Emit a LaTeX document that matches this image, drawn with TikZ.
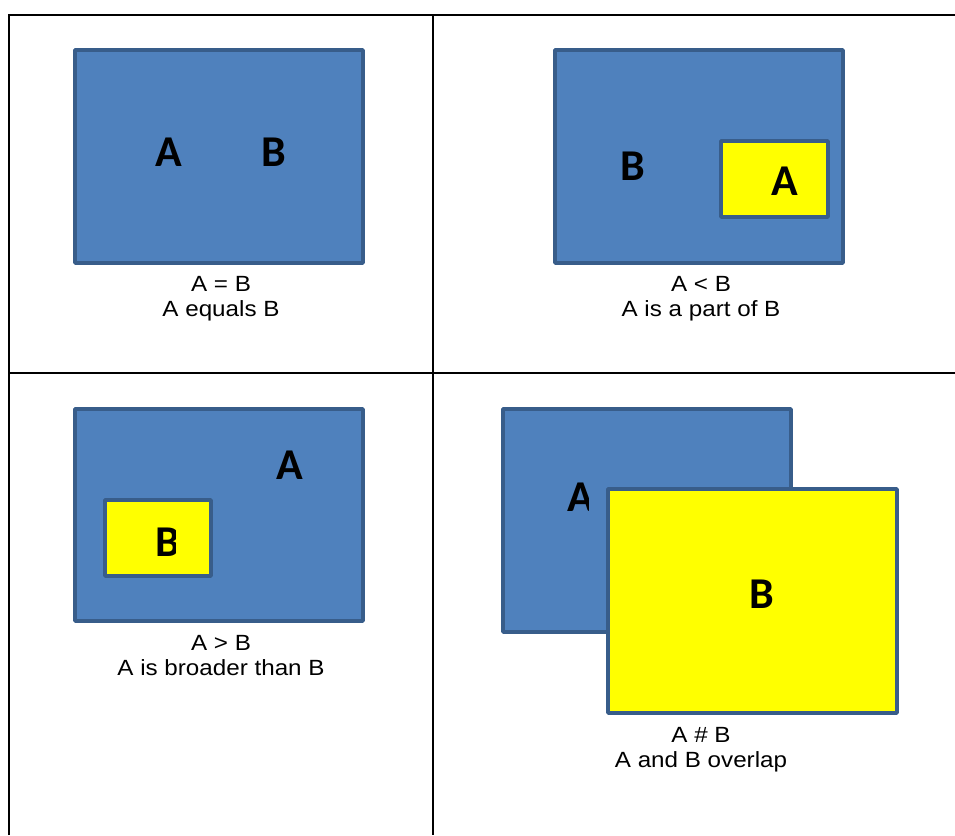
\documentclass[tikz,border=0pt]{standalone}
\usepackage{fontspec}
\setmainfont{Liberation Sans}
\newfontfamily\capfont[FakeStretch=1.1]{Liberation Sans}
\newfontfamily\letterfont{Carlito}
\definecolor{boxblue}{HTML}{4F81BD}
\definecolor{boxedge}{HTML}{385D8A}
\definecolor{boxyellow}{HTML}{FFFF00}
\tikzset{
  gridline/.style={line width=2pt, black},
  bluebox/.style={fill=boxblue, draw=boxedge, line width=3.5pt, line join=round},
  yellowbox/.style={fill=boxyellow, draw=boxedge, line width=3.5pt, line join=round},
  letter/.style={font=\letterfont\bfseries\fontsize{44}{44}\selectfont, inner sep=0pt, text=black},
  caption/.style={font=\capfont\fontsize{22}{24}\selectfont, align=center, inner sep=0pt, text=black}
}
\begin{document}
\begin{tikzpicture}[x=1pt, y=-1pt]
\useasboundingbox (0,0) rectangle (955,835);
% grid
\draw[gridline] (9,835) -- (9,15) -- (955,15);
\draw[gridline] (433,15) -- (433,835);
\draw[gridline] (9,373) -- (955,373);

% panel 1: A = B
\path[bluebox] (75,50) rectangle (363,263);
\node[letter] (p1a) at (169,152) {A};
\node[letter] (p1b) at (274,152) {B};
\node[caption, anchor=base] (p1c1) at (221,291) {A = B};
\node[caption, anchor=base] (p1c2) at (221,316) {A equals B};

% panel 2: A < B
\path[bluebox] (555,50) rectangle (843,263);
\path[yellowbox] (721,141) rectangle (828,217);
\node[letter] (p2b) at (633,166) {B};
\node[letter] (p2a) at (785,181) {A};
\node[caption, anchor=base] (p2c1) at (701,291) {A < B};
\node[caption, anchor=base] (p2c2) at (701,316) {A is a part of B};

% panel 3: A > B
\path[bluebox] (75,409) rectangle (363,621);
\path[yellowbox] (105,500) rectangle (211,576);
\node[letter] (p3a) at (290,465) {A};
\begin{scope}
\clip (100,490) rectangle (175,590);
\node[letter] (p3b) at (168,542) {B};
\end{scope}
\node[caption, anchor=base] (p3c1) at (221,650) {A > B};
\node[caption, anchor=base] (p3c2) at (221,675) {A is broader than B};

% panel 4: A # B
\path[bluebox] (503,409) rectangle (791,632);
\begin{scope}
\clip (540,460) rectangle (588,530);
\node[letter] (p4a) at (581,497) {A};
\end{scope}
\path[yellowbox] (608,489) rectangle (897,713);
\node[letter] (p4b) at (762,594) {B};
\node[caption, anchor=base] (p4c1) at (701,742) {A \# B};
\node[caption, anchor=base] (p4c2) at (701,767) {A and B overlap};
\end{tikzpicture}
\end{document}
